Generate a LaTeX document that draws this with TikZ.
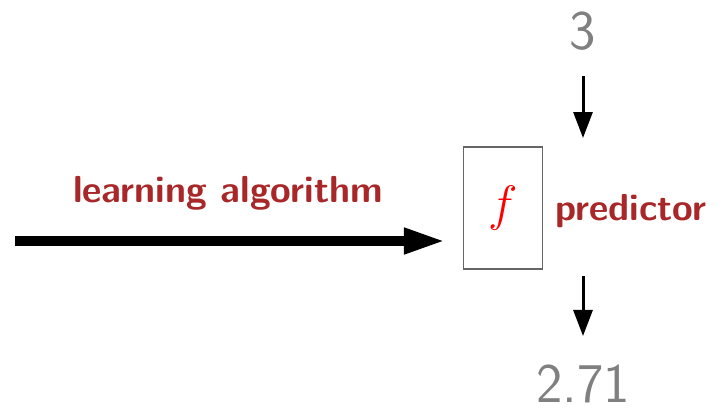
\documentclass[tikz,border=0pt]{standalone}
\usepackage{xcolor}
\usetikzlibrary{positioning}
\usetikzlibrary{arrows.meta}
\definecolor{label_color}{RGB}{168, 40, 42}
\definecolor{value_color}{RGB}{128, 128, 128}

\begin{document}
\begin{tikzpicture}[
    x=0.5pt, y=-0.5pt,
    predbox/.style={draw=gray!80!black, line width=0.7pt, minimum width=39.5pt,
                    minimum height=61pt, inner sep=0pt, text=red,
                    font=\fontsize{29}{32}\selectfont},
    tag/.style={inner sep=0pt, text=label_color,
                font=\sffamily\bfseries\fontsize{18.8}{21}\selectfont},
    value/.style={inner sep=0pt, text=value_color,
                  font=\sffamily\fontsize{28}{31}\selectfont},
    bigarrow/.style={line width=5pt, -{Triangle[length=21pt, width=12pt]}},
    flowarrow/.style={line width=1.5pt, -{Triangle[length=13pt, width=9.5pt]}}]
    \useasboundingbox (0,0) rectangle (722,414);
    \node[predbox] (pred) at (503,208) {$f$};
    \node[tag, anchor=base west] (predlbl) at (555,220) {predictor};
    \node[value, anchor=base] (input) at (583,49) {3};
    \node[value, anchor=base] (output) at (583,402) {2.71};
    \coordinate (start) at (15,241);
    \coordinate (inend) at (583,138);
    \coordinate (outstart) at (583,276);
    \draw[bigarrow, shorten >=8.5pt] (start) -- (start -| pred.west);
    \draw[flowarrow, shorten <=13.5pt] (input.base) -- (inend);
    \draw[flowarrow, shorten >=14pt] (outstart) -- (output.north -| outstart);
    \node[tag, anchor=base] (algo) at (228,202) {learning algorithm};
  \end{tikzpicture}
\end{document}
